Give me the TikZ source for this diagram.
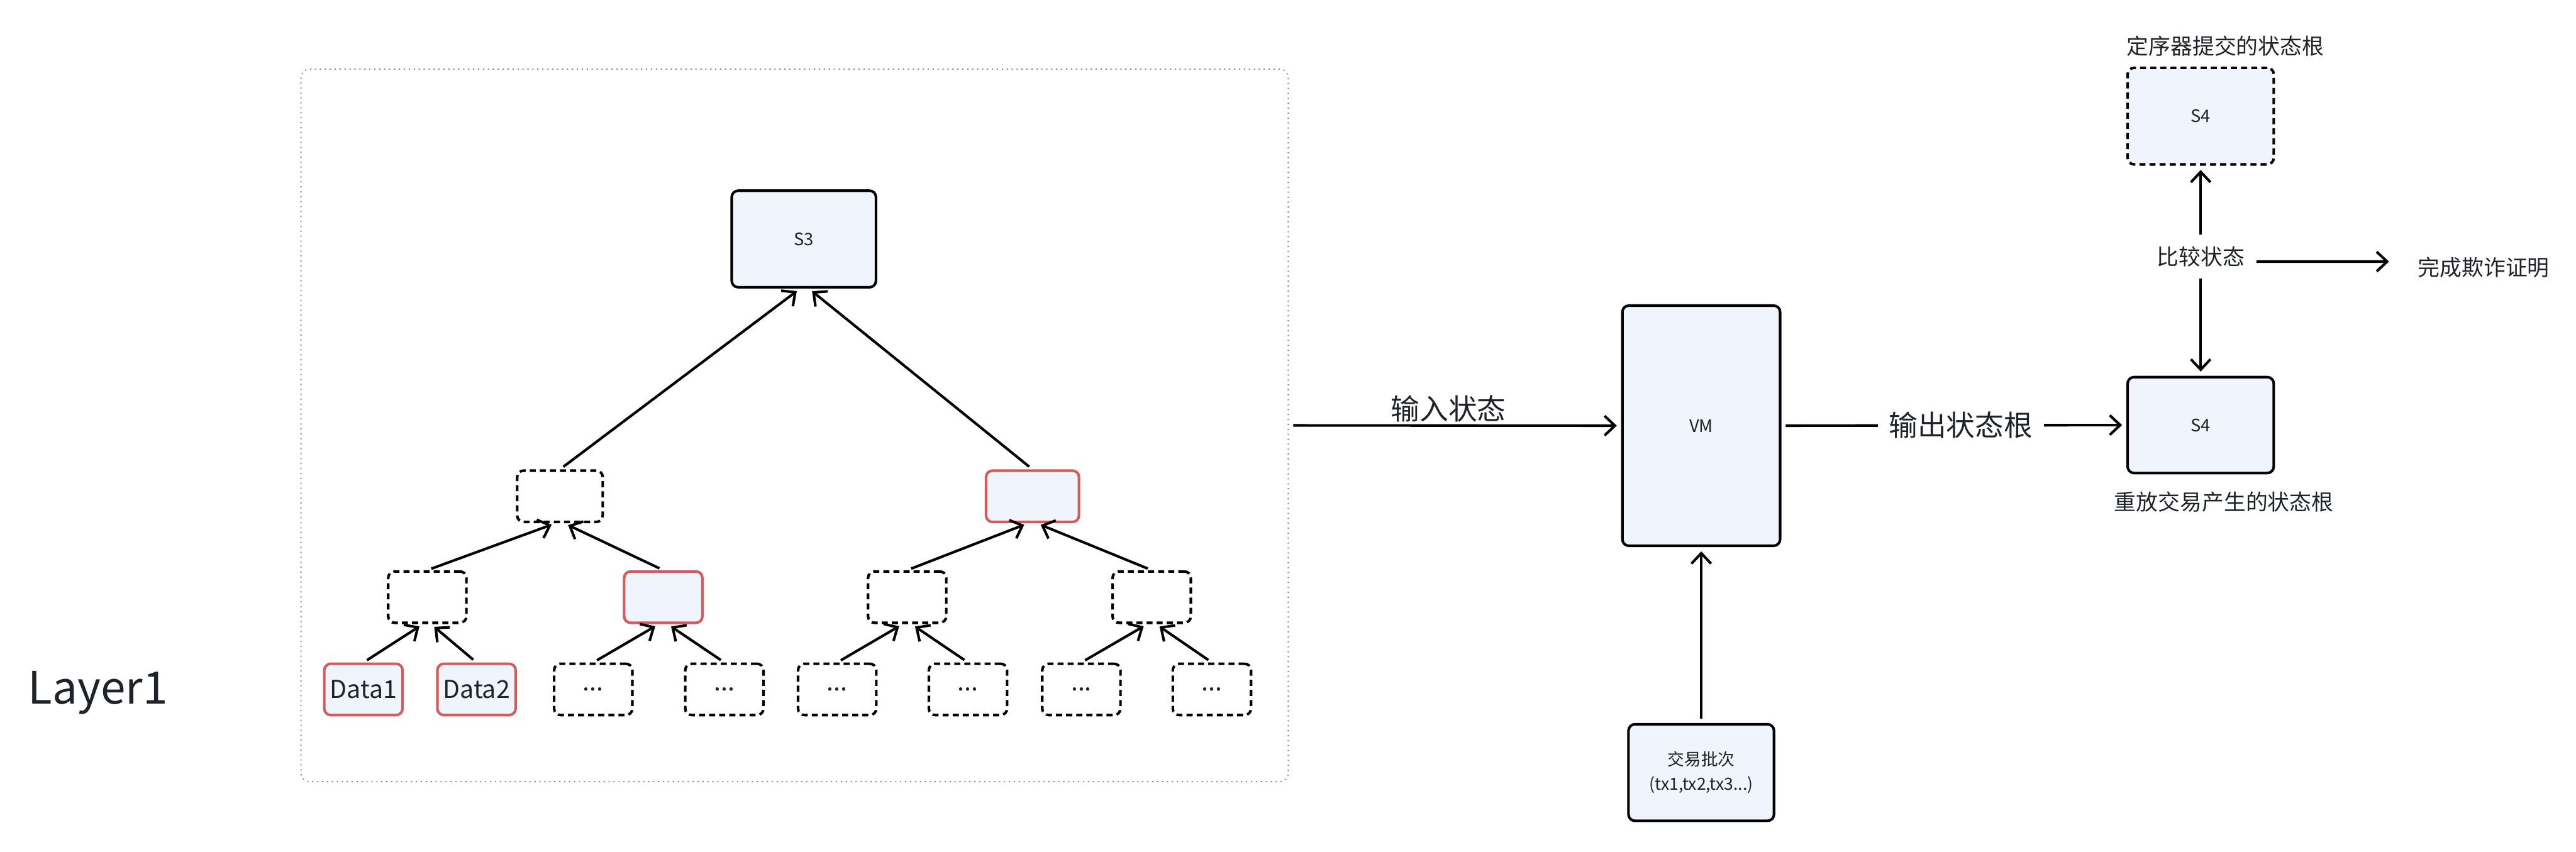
\documentclass[tikz,border=0pt]{standalone}
\usepackage{fontspec}
\setmainfont{Noto Sans CJK SC}
\usepackage{tikz}
\usetikzlibrary{arrows.meta}
\definecolor{boxfill}{HTML}{F0F4FC}
\definecolor{redline}{HTML}{D55B5B}
\definecolor{inkc}{HTML}{1F2329}

\begin{document}
\begin{tikzpicture}[
    box/.style={draw=black, fill=boxfill, line width=1.2pt, rounded corners=3pt, text=inkc, inner sep=0pt, font=\fontsize{8}{10}\selectfont},
    hashbox/.style={line width=1.2pt, rounded corners=3pt, text=inkc, inner sep=0pt, minimum width=1.28cm, minimum height=0.84cm, font=\fontsize{11.5}{13}\selectfont},
    redbox/.style={hashbox, draw=redline, fill=boxfill},
    emptybox/.style={hashbox, draw=black, dash pattern=on 2.8pt off 1.9pt},
    arr/.style={-{Straight Barb[length=1.7mm,width=3.2mm]}, line width=1.2pt, shorten <=0.07cm, shorten >=0.07cm},
    lbl/.style={text=inkc, font=\fontsize{10.2}{12}\selectfont},
    biglbl/.style={text=inkc, font=\fontsize{13.4}{16}\selectfont}
]
            \useasboundingbox (0,0) rectangle (42.14,-13.94);
            % frame round the tree
            \node[draw=gray!90, line width=0.6pt, dash pattern=on 0.6pt off 1.7pt, rounded corners=4pt, minimum width=16.15cm, minimum height=11.66cm, inner sep=0pt] (frame) at (13.0,-6.96) {};
            \node[text=inkc, font=\fontsize{20.8}{24}\selectfont, anchor=base] (layer) at (1.6,-11.52) {Layer1};
            % tree
            \node[box, minimum width=2.36cm, minimum height=1.58cm] (s3) at (13.15,-3.91) {S3};
            \node[emptybox, minimum width=1.40cm] (n1a) at (9.16,-8.12) {};
            \node[redbox, minimum width=1.52cm] (n1b) at (16.89,-8.12) {};
            \node[emptybox] (n2a) at (6.99,-9.77) {};
            \node[redbox] (n2b) at (10.85,-9.77) {};
            \node[emptybox] (n2c) at (14.84,-9.77) {};
            \node[emptybox] (n2d) at (18.84,-9.77) {};
            \node[redbox] (d1) at (5.945,-11.28) {Data1};
            \node[redbox] (d2) at (7.795,-11.28) {Data2};
            \node[emptybox] (l3) at (9.705,-11.28) {...};
            \node[emptybox] (l4) at (11.85,-11.28) {...};
            \node[emptybox] (l5) at (13.695,-11.28) {...};
            \node[emptybox] (l6) at (15.835,-11.28) {...};
            \node[emptybox] (l7) at (17.69,-11.28) {...};
            \node[emptybox] (l8) at (19.825,-11.28) {...};
            \draw[arr] (n1a.north) -- ([xshift=-0.06cm]s3.south);
            \draw[arr] (n1b.north) -- ([xshift=0.08cm]s3.south);
            \draw[arr] (n2a.north) -- ([xshift=-0.07cm]n1a.south);
            \draw[arr] (n2b.north) -- ([xshift=0.07cm]n1a.south);
            \draw[arr] (n2c.north) -- ([xshift=-0.07cm]n1b.south);
            \draw[arr] (n2d.north) -- ([xshift=0.07cm]n1b.south);
            \draw[arr] (d1.north) -- ([xshift=-0.07cm]n2a.south);
            \draw[arr] (d2.north) -- ([xshift=0.06cm]n2a.south);
            \draw[arr] (l3.north) -- ([xshift=-0.07cm]n2b.south);
            \draw[arr] (l4.north) -- ([xshift=0.07cm]n2b.south);
            \draw[arr] (l5.north) -- ([xshift=-0.07cm]n2c.south);
            \draw[arr] (l6.north) -- ([xshift=0.07cm]n2c.south);
            \draw[arr] (l7.north) -- ([xshift=-0.07cm]n2d.south);
            \draw[arr] (l8.north) -- ([xshift=0.07cm]n2d.south);
            % VM and batch
            \node[box, minimum width=2.58cm, minimum height=3.93cm] (vm) at (27.83,-6.965) {VM};
            \node[box, minimum width=2.38cm, minimum height=1.58cm, align=center, font=\fontsize{7.8}{11.4}\selectfont] (batch) at (27.83,-12.64) {交易批次\\(tx1,tx2,tx3...)};
            \draw[arr] (frame.east) -- node[biglbl, above, pos=0.48, inner sep=1pt] {输入状态} (vm.west);
            \draw[arr] (batch.north) -- (vm.south);
            % state roots
            \node[box, minimum width=2.39cm, minimum height=1.57cm] (s4b) at (36.0,-6.955) {S4};
            \node[box, dash pattern=on 2.8pt off 1.9pt, minimum width=2.39cm, minimum height=1.58cm] (s4t) at (36.0,-1.90) {S4};
            \node[lbl, anchor=south west, inner sep=0pt] (seqlbl) at ([yshift=0.16cm]s4t.north west) {定序器提交的状态根};
            \node[lbl] (replay) at (36.38,-8.21) {重放交易产生的状态根};
            \node[lbl] (cmp) at (36.0,-4.20) {比较状态};
            \node[lbl] (fraud) at (40.63,-4.37) {完成欺诈证明};
            \draw[arr] (vm.east) -- node[biglbl, fill=white, pos=0.52, inner xsep=0.18cm] {输出状态根} (s4b.west);
            \draw[arr] (cmp.north) -- (s4t.south);
            \draw[arr] (cmp.south) -- (s4b.north);
            \draw[arr, shorten >=0.35cm] ([yshift=-0.08cm]cmp.east) -- ([yshift=0.09cm]fraud.west);
\end{tikzpicture}
\end{document}
